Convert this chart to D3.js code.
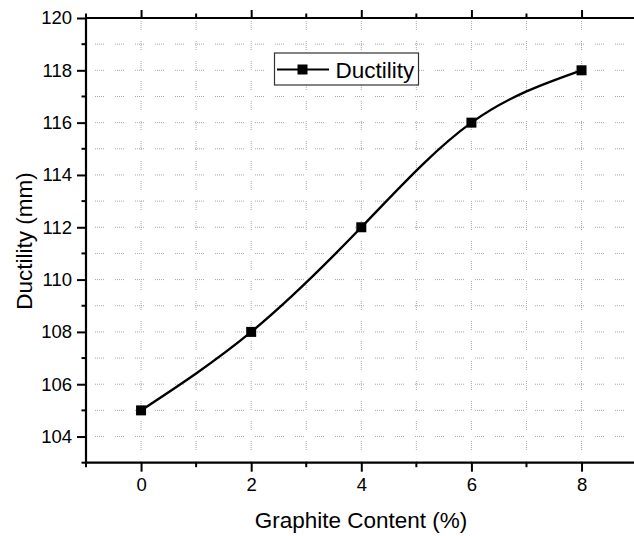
<!DOCTYPE html>
<html>
<head>
<meta charset="utf-8">
<script src="https://cdn.jsdelivr.net/npm/d3@7"></script>
<style>
  html, body { margin: 0; padding: 0; background: #fff; }
  svg { display: block; }
  text { font-family: "Liberation Sans", Arial, sans-serif; fill: #000; }
</style>
</head>
<body>
<div id="chart"></div>
<script>
// ---- data ----
const graphiteContent = [0, 2, 4, 6, 8];
const ductility = [105, 108, 112, 116, 118];
const seriesName = "Ductility";
const xTickValues = [0, 2, 4, 6, 8];
const yTickValues = [104, 106, 108, 110, 112, 114, 116, 118, 120];
const xTitle = "Graphite Content (%)";
const yTitle = "Ductility (mm)";

(function () {
const W = 634, H = 536;
const svg = d3.select("#chart").append("svg").attr("width", W).attr("height", H);

const pLeft = 86, pTop = 18, pBottom = 462.7;
const x = d3.scaleLinear().domain([-1, 9]).range([pLeft, pLeft + 10 * 55.06]);
const y = d3.scaleLinear().domain([103, 120]).range([pBottom, pTop]);
const pRight = x(9);

// grid lines (major + minor), dotted dashes
const gridG = svg.append("g");
const xGrid = d3.range(0, 10, 1);
const yGrid = d3.range(104, 120, 1);
const dotDash = "1,1,1,1,1,1,1,1,1,11";
gridG.selectAll("line.gx").data(xGrid).join("line")
  .attr("x1", d => x(d)).attr("x2", d => x(d))
  .attr("y1", pTop).attr("y2", pBottom)
  .attr("stroke", "#a8a8a8").attr("stroke-width", 1)
  .attr("stroke-dasharray", dotDash).attr("stroke-dashoffset", -3);
gridG.selectAll("line.gy").data(yGrid).join("line")
  .attr("x1", pLeft).attr("x2", pRight)
  .attr("y1", d => y(d)).attr("y2", d => y(d))
  .attr("stroke", "#a8a8a8").attr("stroke-width", 1)
  .attr("stroke-dasharray", dotDash).attr("stroke-dashoffset", -9);

// axes
const axisFont = "18.5px";
const xMinor = d3.range(-1, 10, 2);
const yMinor = d3.range(103, 120, 2);

// bottom axis
const bx = svg.append("g").attr("transform", `translate(0,${pBottom})`)
  .call(d3.axisBottom(x).tickValues(xTickValues).tickFormat(d3.format("d")).tickSize(9).tickPadding(6));
bx.select(".domain").remove();
bx.selectAll(".tick line").attr("stroke", "#000").attr("stroke-width", 2);
bx.selectAll(".tick text").style("font-size", axisFont).style("font-family", "Liberation Sans, Arial, sans-serif");
svg.append("g").selectAll("line").data(xMinor).join("line")
  .attr("x1", d => x(d)).attr("x2", d => x(d))
  .attr("y1", pBottom).attr("y2", pBottom + 4.5)
  .attr("stroke", "#000").attr("stroke-width", 2);

// top axis ticks (outward)
const tx = svg.append("g").attr("transform", `translate(0,${pTop})`)
  .call(d3.axisTop(x).tickValues(xTickValues).tickFormat("").tickSize(8));
tx.select(".domain").remove();
tx.selectAll(".tick line").attr("stroke", "#000").attr("stroke-width", 2);
svg.append("g").selectAll("line").data(xMinor).join("line")
  .attr("x1", d => x(d)).attr("x2", d => x(d))
  .attr("y1", pTop).attr("y2", pTop - 4.5)
  .attr("stroke", "#000").attr("stroke-width", 2);

// left axis
const ly = svg.append("g").attr("transform", `translate(${pLeft},0)`)
  .call(d3.axisLeft(y).tickValues(yTickValues).tickFormat(d3.format("d")).tickSize(9).tickPadding(5));
ly.select(".domain").remove();
ly.selectAll(".tick line").attr("stroke", "#000").attr("stroke-width", 2);
ly.selectAll(".tick text").style("font-size", axisFont).style("font-family", "Liberation Sans, Arial, sans-serif");
svg.append("g").selectAll("line").data(yMinor).join("line")
  .attr("x1", pLeft).attr("x2", pLeft - 4.5)
  .attr("y1", d => y(d)).attr("y2", d => y(d))
  .attr("stroke", "#000").attr("stroke-width", 2);

// frame lines
svg.append("line").attr("x1", pLeft - 1).attr("x2", pRight).attr("y1", pBottom).attr("y2", pBottom)
  .attr("stroke", "#000").attr("stroke-width", 2.2);
svg.append("line").attr("x1", pLeft - 1).attr("x2", pRight).attr("y1", pTop).attr("y2", pTop)
  .attr("stroke", "#000").attr("stroke-width", 2.2);
svg.append("line").attr("x1", pLeft).attr("x2", pLeft).attr("y1", pTop - 1).attr("y2", pBottom + 1)
  .attr("stroke", "#000").attr("stroke-width", 2.2);

// series
const pts = graphiteContent.map((g, i) => [g, ductility[i]]);
const line = d3.line().x(d => x(d[0])).y(d => y(d[1])).curve(d3.curveNatural);
svg.append("path").datum(pts).attr("d", line)
  .attr("fill", "none").attr("stroke", "#000").attr("stroke-width", 2.4);
const ms = 10;
svg.append("g").selectAll("rect").data(pts).join("rect")
  .attr("x", d => x(d[0]) - ms / 2).attr("y", d => y(d[1]) - ms / 2)
  .attr("width", ms).attr("height", ms).attr("fill", "#000");

// legend
const lg = svg.append("g");
lg.append("rect").attr("x", 274.5).attr("y", 53).attr("width", 144).attr("height", 32)
  .attr("fill", "#fff").attr("stroke", "#333").attr("stroke-width", 1.2);
lg.append("line").attr("x1", 277).attr("x2", 329).attr("y1", 69.5).attr("y2", 69.5)
  .attr("stroke", "#000").attr("stroke-width", 2);
lg.append("rect").attr("x", 302.5 - ms / 2).attr("y", 69.5 - ms / 2).attr("width", ms).attr("height", ms).attr("fill", "#000");
lg.append("text").attr("x", 335.5).attr("y", 78).style("font-size", "22.5px").text(seriesName);

// titles
svg.append("text").attr("x", 361).attr("y", 528).attr("text-anchor", "middle")
  .style("font-size", "22.5px").text(xTitle);
svg.append("text").attr("transform", "translate(32,241) rotate(-90)").attr("text-anchor", "middle")
  .style("font-size", "22.5px").text(yTitle);
})();
</script>
</body>
</html>
